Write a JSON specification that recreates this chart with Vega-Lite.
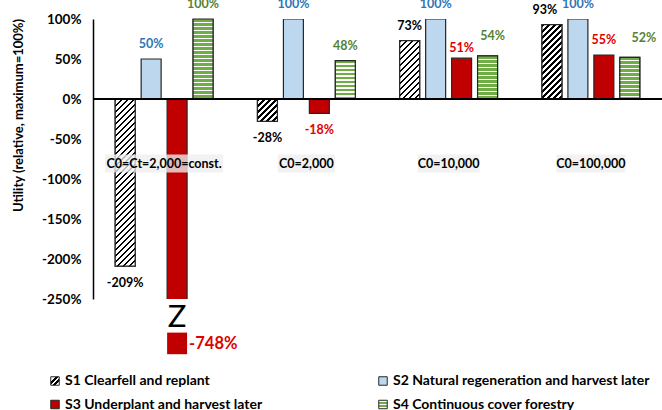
{
  "$schema": "https://vega.github.io/schema/vega-lite/v6.json",
  "width": 569,
  "height": 280,
  "autosize": {"type": "none"},
  "padding": {"left": 93, "top": 19, "right": 0, "bottom": 111},
  "background": "white",
  "config": {
    "font": "Lato",
    "view": {"stroke": null},
    "locale": {"number": {"decimal": ".", "thousands": ",", "grouping": [3], "currency": ["$", ""], "minus": "-"}},
    "legend": {
      "orient": "none", "legendX": -45, "legendY": 355, "columns": 2, "columnPadding": 113, "rowPadding": 9.5,
      "symbolType": "square", "symbolSize": 72, "symbolStrokeWidth": 1,
      "labelFont": "Lato", "labelFontSize": 14, "labelFontWeight": "bold", "labelColor": "#000000",
      "labelOffset": 3, "labelLimit": 400, "padding": 0
    }
  },
  "params": [
    {"name": "hatch", "value": [
      {"offset": 0, "color": "#000"}, {"offset": 0.0140625, "color": "#000"}, {"offset": 0.0140625, "color": "#fff"}, {"offset": 0.03125, "color": "#fff"},
      {"offset": 0.03125, "color": "#000"}, {"offset": 0.0453125, "color": "#000"}, {"offset": 0.0453125, "color": "#fff"}, {"offset": 0.0625, "color": "#fff"},
      {"offset": 0.0625, "color": "#000"}, {"offset": 0.0765625, "color": "#000"}, {"offset": 0.0765625, "color": "#fff"}, {"offset": 0.09375, "color": "#fff"},
      {"offset": 0.09375, "color": "#000"}, {"offset": 0.1078125, "color": "#000"}, {"offset": 0.1078125, "color": "#fff"}, {"offset": 0.125, "color": "#fff"},
      {"offset": 0.125, "color": "#000"}, {"offset": 0.1390625, "color": "#000"}, {"offset": 0.1390625, "color": "#fff"}, {"offset": 0.15625, "color": "#fff"},
      {"offset": 0.15625, "color": "#000"}, {"offset": 0.1703125, "color": "#000"}, {"offset": 0.1703125, "color": "#fff"}, {"offset": 0.1875, "color": "#fff"},
      {"offset": 0.1875, "color": "#000"}, {"offset": 0.2015625, "color": "#000"}, {"offset": 0.2015625, "color": "#fff"}, {"offset": 0.21875, "color": "#fff"},
      {"offset": 0.21875, "color": "#000"}, {"offset": 0.2328125, "color": "#000"}, {"offset": 0.2328125, "color": "#fff"}, {"offset": 0.25, "color": "#fff"},
      {"offset": 0.25, "color": "#000"}, {"offset": 0.2640625, "color": "#000"}, {"offset": 0.2640625, "color": "#fff"}, {"offset": 0.28125, "color": "#fff"},
      {"offset": 0.28125, "color": "#000"}, {"offset": 0.2953125, "color": "#000"}, {"offset": 0.2953125, "color": "#fff"}, {"offset": 0.3125, "color": "#fff"},
      {"offset": 0.3125, "color": "#000"}, {"offset": 0.3265625, "color": "#000"}, {"offset": 0.3265625, "color": "#fff"}, {"offset": 0.34375, "color": "#fff"},
      {"offset": 0.34375, "color": "#000"}, {"offset": 0.3578125, "color": "#000"}, {"offset": 0.3578125, "color": "#fff"}, {"offset": 0.375, "color": "#fff"},
      {"offset": 0.375, "color": "#000"}, {"offset": 0.3890625, "color": "#000"}, {"offset": 0.3890625, "color": "#fff"}, {"offset": 0.40625, "color": "#fff"},
      {"offset": 0.40625, "color": "#000"}, {"offset": 0.4203125, "color": "#000"}, {"offset": 0.4203125, "color": "#fff"}, {"offset": 0.4375, "color": "#fff"},
      {"offset": 0.4375, "color": "#000"}, {"offset": 0.4515625, "color": "#000"}, {"offset": 0.4515625, "color": "#fff"}, {"offset": 0.46875, "color": "#fff"},
      {"offset": 0.46875, "color": "#000"}, {"offset": 0.4828125, "color": "#000"}, {"offset": 0.4828125, "color": "#fff"}, {"offset": 0.5, "color": "#fff"},
      {"offset": 0.5, "color": "#000"}, {"offset": 0.5140625, "color": "#000"}, {"offset": 0.5140625, "color": "#fff"}, {"offset": 0.53125, "color": "#fff"},
      {"offset": 0.53125, "color": "#000"}, {"offset": 0.5453125, "color": "#000"}, {"offset": 0.5453125, "color": "#fff"}, {"offset": 0.5625, "color": "#fff"},
      {"offset": 0.5625, "color": "#000"}, {"offset": 0.5765625, "color": "#000"}, {"offset": 0.5765625, "color": "#fff"}, {"offset": 0.59375, "color": "#fff"},
      {"offset": 0.59375, "color": "#000"}, {"offset": 0.6078125, "color": "#000"}, {"offset": 0.6078125, "color": "#fff"}, {"offset": 0.625, "color": "#fff"},
      {"offset": 0.625, "color": "#000"}, {"offset": 0.6390625, "color": "#000"}, {"offset": 0.6390625, "color": "#fff"}, {"offset": 0.65625, "color": "#fff"},
      {"offset": 0.65625, "color": "#000"}, {"offset": 0.6703125, "color": "#000"}, {"offset": 0.6703125, "color": "#fff"}, {"offset": 0.6875, "color": "#fff"},
      {"offset": 0.6875, "color": "#000"}, {"offset": 0.7015625, "color": "#000"}, {"offset": 0.7015625, "color": "#fff"}, {"offset": 0.71875, "color": "#fff"},
      {"offset": 0.71875, "color": "#000"}, {"offset": 0.7328125, "color": "#000"}, {"offset": 0.7328125, "color": "#fff"}, {"offset": 0.75, "color": "#fff"},
      {"offset": 0.75, "color": "#000"}, {"offset": 0.7640625, "color": "#000"}, {"offset": 0.7640625, "color": "#fff"}, {"offset": 0.78125, "color": "#fff"},
      {"offset": 0.78125, "color": "#000"}, {"offset": 0.7953125, "color": "#000"}, {"offset": 0.7953125, "color": "#fff"}, {"offset": 0.8125, "color": "#fff"},
      {"offset": 0.8125, "color": "#000"}, {"offset": 0.8265625, "color": "#000"}, {"offset": 0.8265625, "color": "#fff"}, {"offset": 0.84375, "color": "#fff"},
      {"offset": 0.84375, "color": "#000"}, {"offset": 0.8578125, "color": "#000"}, {"offset": 0.8578125, "color": "#fff"}, {"offset": 0.875, "color": "#fff"},
      {"offset": 0.875, "color": "#000"}, {"offset": 0.8890625, "color": "#000"}, {"offset": 0.8890625, "color": "#fff"}, {"offset": 0.90625, "color": "#fff"},
      {"offset": 0.90625, "color": "#000"}, {"offset": 0.9203125, "color": "#000"}, {"offset": 0.9203125, "color": "#fff"}, {"offset": 0.9375, "color": "#fff"},
      {"offset": 0.9375, "color": "#000"}, {"offset": 0.9515625, "color": "#000"}, {"offset": 0.9515625, "color": "#fff"}, {"offset": 0.96875, "color": "#fff"},
      {"offset": 0.96875, "color": "#000"}, {"offset": 0.9828125, "color": "#000"}, {"offset": 0.9828125, "color": "#fff"}, {"offset": 1, "color": "#fff"}
    ]},
    {"name": "stripes", "value": [
      {"offset": 0, "color": "#70AD47"}, {"offset": 0.035, "color": "#70AD47"}, {"offset": 0.035, "color": "#fff"}, {"offset": 0.05, "color": "#fff"},
      {"offset": 0.05, "color": "#70AD47"}, {"offset": 0.085, "color": "#70AD47"}, {"offset": 0.085, "color": "#fff"}, {"offset": 0.1, "color": "#fff"},
      {"offset": 0.1, "color": "#70AD47"}, {"offset": 0.135, "color": "#70AD47"}, {"offset": 0.135, "color": "#fff"}, {"offset": 0.15, "color": "#fff"},
      {"offset": 0.15, "color": "#70AD47"}, {"offset": 0.185, "color": "#70AD47"}, {"offset": 0.185, "color": "#fff"}, {"offset": 0.2, "color": "#fff"},
      {"offset": 0.2, "color": "#70AD47"}, {"offset": 0.235, "color": "#70AD47"}, {"offset": 0.235, "color": "#fff"}, {"offset": 0.25, "color": "#fff"},
      {"offset": 0.25, "color": "#70AD47"}, {"offset": 0.285, "color": "#70AD47"}, {"offset": 0.285, "color": "#fff"}, {"offset": 0.3, "color": "#fff"},
      {"offset": 0.3, "color": "#70AD47"}, {"offset": 0.335, "color": "#70AD47"}, {"offset": 0.335, "color": "#fff"}, {"offset": 0.35, "color": "#fff"},
      {"offset": 0.35, "color": "#70AD47"}, {"offset": 0.385, "color": "#70AD47"}, {"offset": 0.385, "color": "#fff"}, {"offset": 0.4, "color": "#fff"},
      {"offset": 0.4, "color": "#70AD47"}, {"offset": 0.435, "color": "#70AD47"}, {"offset": 0.435, "color": "#fff"}, {"offset": 0.45, "color": "#fff"},
      {"offset": 0.45, "color": "#70AD47"}, {"offset": 0.485, "color": "#70AD47"}, {"offset": 0.485, "color": "#fff"}, {"offset": 0.5, "color": "#fff"},
      {"offset": 0.5, "color": "#70AD47"}, {"offset": 0.535, "color": "#70AD47"}, {"offset": 0.535, "color": "#fff"}, {"offset": 0.55, "color": "#fff"},
      {"offset": 0.55, "color": "#70AD47"}, {"offset": 0.585, "color": "#70AD47"}, {"offset": 0.585, "color": "#fff"}, {"offset": 0.6, "color": "#fff"},
      {"offset": 0.6, "color": "#70AD47"}, {"offset": 0.635, "color": "#70AD47"}, {"offset": 0.635, "color": "#fff"}, {"offset": 0.65, "color": "#fff"},
      {"offset": 0.65, "color": "#70AD47"}, {"offset": 0.685, "color": "#70AD47"}, {"offset": 0.685, "color": "#fff"}, {"offset": 0.7, "color": "#fff"},
      {"offset": 0.7, "color": "#70AD47"}, {"offset": 0.735, "color": "#70AD47"}, {"offset": 0.735, "color": "#fff"}, {"offset": 0.75, "color": "#fff"},
      {"offset": 0.75, "color": "#70AD47"}, {"offset": 0.785, "color": "#70AD47"}, {"offset": 0.785, "color": "#fff"}, {"offset": 0.8, "color": "#fff"},
      {"offset": 0.8, "color": "#70AD47"}, {"offset": 0.835, "color": "#70AD47"}, {"offset": 0.835, "color": "#fff"}, {"offset": 0.85, "color": "#fff"},
      {"offset": 0.85, "color": "#70AD47"}, {"offset": 0.885, "color": "#70AD47"}, {"offset": 0.885, "color": "#fff"}, {"offset": 0.9, "color": "#fff"},
      {"offset": 0.9, "color": "#70AD47"}, {"offset": 0.935, "color": "#70AD47"}, {"offset": 0.935, "color": "#fff"}, {"offset": 0.95, "color": "#fff"},
      {"offset": 0.95, "color": "#70AD47"}, {"offset": 0.985, "color": "#70AD47"}, {"offset": 0.985, "color": "#fff"}, {"offset": 1, "color": "#fff"}
    ]}
  ],
  "data": {"values": [
    {"group": "C0=Ct=2,000=const.", "strategy": "S1 Clearfell and replant", "value": -2.09},
    {"group": "C0=Ct=2,000=const.", "strategy": "S2 Natural regeneration and harvest later", "value": 0.5},
    {"group": "C0=Ct=2,000=const.", "strategy": "S3 Underplant and harvest later", "value": -7.48},
    {"group": "C0=Ct=2,000=const.", "strategy": "S4 Continuous cover forestry", "value": 1.0},
    {"group": "C0=2,000", "strategy": "S1 Clearfell and replant", "value": -0.28},
    {"group": "C0=2,000", "strategy": "S2 Natural regeneration and harvest later", "value": 1.0},
    {"group": "C0=2,000", "strategy": "S3 Underplant and harvest later", "value": -0.18},
    {"group": "C0=2,000", "strategy": "S4 Continuous cover forestry", "value": 0.48},
    {"group": "C0=10,000", "strategy": "S1 Clearfell and replant", "value": 0.73},
    {"group": "C0=10,000", "strategy": "S2 Natural regeneration and harvest later", "value": 1.0},
    {"group": "C0=10,000", "strategy": "S3 Underplant and harvest later", "value": 0.51},
    {"group": "C0=10,000", "strategy": "S4 Continuous cover forestry", "value": 0.54},
    {"group": "C0=100,000", "strategy": "S1 Clearfell and replant", "value": 0.93},
    {"group": "C0=100,000", "strategy": "S2 Natural regeneration and harvest later", "value": 1.0},
    {"group": "C0=100,000", "strategy": "S3 Underplant and harvest later", "value": 0.55},
    {"group": "C0=100,000", "strategy": "S4 Continuous cover forestry", "value": 0.52}
  ]},
  "encoding": {
    "x": {"field": "group", "type": "nominal", "axis": null,
      "scale": {"domain": ["C0=Ct=2,000=const.", "C0=2,000", "C0=10,000", "C0=100,000"], "paddingInner": 0.27, "paddingOuter": 0.135}},
    "y": {"field": "value", "type": "quantitative",
      "scale": {"domain": [-2.5, 1], "nice": false, "zero": false},
      "axis": {
        "values": [-2.5, -2, -1.5, -1, -0.5, 0, 0.5, 1], "format": ".0%", "grid": false, "ticks": false,
        "domain": true, "domainColor": "#000000", "domainWidth": 1.5,
        "labelFont": "Lato", "labelFontSize": 13.5, "labelFontWeight": "bold", "labelColor": "#000000", "labelPadding": 12,
        "title": "Utility (relative, maximum=100%)", "titleFont": "Lato", "titleFontSize": 13, "titleFontWeight": "bold",
        "titleColor": "#000000", "titleX": -75, "titleY": 96, "titleBaseline": "middle", "titleAngle": -90, "titleAlign": "center"
      }
    }
  },
  "layer": [
    {
      "mark": {"type": "bar", "clip": true, "strokeWidth": 1.2},
      "encoding": {
        "xOffset": {"field": "strategy", "type": "nominal",
          "scale": {"domain": ["S1 Clearfell and replant", "S2 Natural regeneration and harvest later", "S3 Underplant and harvest later", "S4 Continuous cover forestry"], "paddingInner": 0.2308, "paddingOuter": 0.1154}},
        "fill": {"field": "strategy", "type": "nominal",
          "scale": {"domain": ["S1 Clearfell and replant", "S3 Underplant and harvest later", "S2 Natural regeneration and harvest later", "S4 Continuous cover forestry"],
                    "range": [
                      {"expr": "{gradient:'linear',x1:0,y1:0,x2:1,y2:1,stops:[{offset:0,color:'#fff'},{offset:0.28,color:'#fff'},{offset:0.28,color:'#000'},{offset:0.45,color:'#000'},{offset:0.45,color:'#fff'},{offset:0.6,color:'#fff'},{offset:0.6,color:'#000'},{offset:0.77,color:'#000'},{offset:0.77,color:'#fff'},{offset:1,color:'#fff'}]}"},
                      "#C00000",
                      "#BDD7EE",
                      {"expr": "{gradient:'linear',x1:0,y1:0,x2:0,y2:1,stops:[{offset:0,color:'#fff'},{offset:0.2,color:'#fff'},{offset:0.2,color:'#70AD47'},{offset:0.4,color:'#70AD47'},{offset:0.4,color:'#fff'},{offset:0.6,color:'#fff'},{offset:0.6,color:'#70AD47'},{offset:0.8,color:'#70AD47'},{offset:0.8,color:'#fff'},{offset:1,color:'#fff'}]}"}
                    ]},
          "legend": {"title": null}
        },
        "stroke": {"field": "strategy", "type": "nominal",
          "scale": {"domain": ["S1 Clearfell and replant", "S3 Underplant and harvest later", "S2 Natural regeneration and harvest later", "S4 Continuous cover forestry"],
                    "range": ["#262626", "#262626", "#262626", "#262626"]},
          "legend": {"title": null}
        }
      }
    },
    {
      "transform": [{"filter": "substring(datum.strategy,0,2)=='S1' || substring(datum.strategy,0,2)=='S4'"}],
      "mark": {"type": "bar", "stroke": "#262626", "strokeWidth": 1.2,
        "fill": {"expr": "substring(datum.strategy,0,2)=='S1' ? {gradient:'linear', x1:0, y1:0, x2: 3840/(400+pow(scale('y',datum.value)-scale('y',0),2)), y2: 192*abs(scale('y',datum.value)-scale('y',0))/(400+pow(scale('y',datum.value)-scale('y',0),2)), stops: hatch} : {gradient:'linear', x1:0, y1:0, x2:0, y2: 80/abs(scale('y',datum.value)-scale('y',0)), stops: stripes}"}},
      "encoding": {
        "xOffset": {"field": "strategy", "type": "nominal"}
      }
    },
    {
      "transform": [{"filter": "substring(datum.strategy,0,2)=='S1'"}],
      "mark": {"type": "bar", "fill": "#EEEEEE", "opacity": 0.78},
      "encoding": {
        "y": {"datum": -0.695},
        "y2": {"datum": -0.92},
        "size": {"condition": [
          {"test": "datum.group == 'C0=Ct=2,000=const.'", "value": 118},
          {"test": "datum.group == 'C0=2,000'", "value": 57},
          {"test": "datum.group == 'C0=10,000'", "value": 62}
        ], "value": 69}
      }
    },
    {
      "transform": [{"filter": "substring(datum.strategy,0,2)=='S1'"}],
      "mark": {"type": "text", "font": "Lato", "fontSize": 12.5, "fontWeight": "bold", "color": "#000000", "baseline": "middle"},
      "encoding": {
        "y": {"datum": -0.812},
        "text": {"field": "group"}
      }
    },
    {
      "mark": {"type": "rule", "color": "#000000", "strokeWidth": 2},
      "encoding": {"x": null, "y": {"datum": 0}}
    },
    {
      "transform": [{"filter": "datum.value > 0"}],
      "mark": {"type": "text", "font": "Lato", "fontSize": 12.5, "fontWeight": "bold", "baseline": "alphabetic",
        "dx": {"expr": "datum.group=='C0=100,000' && substring(datum.strategy,0,2)=='S4' ? 14 : datum.group=='C0=100,000' && substring(datum.strategy,0,2)=='S1' ? -7 : datum.group=='C0=10,000' && substring(datum.strategy,0,2)=='S4' ? 5 : 0"},
        "dy": {"expr": "datum.group=='C0=100,000' && substring(datum.strategy,0,2)=='S4' ? -15 : datum.group=='C0=10,000' && substring(datum.strategy,0,2)=='S4' ? -16 : datum.group=='C0=10,000' && substring(datum.strategy,0,2)=='S3' ? -6 : -11"}},
      "encoding": {
        "xOffset": {"field": "strategy", "type": "nominal"},
        "text": {"field": "value", "format": ".0%"},
        "color": {"field": "strategy", "type": "nominal", "legend": null,
          "scale": {"domain": ["S1 Clearfell and replant", "S2 Natural regeneration and harvest later", "S3 Underplant and harvest later", "S4 Continuous cover forestry"],
                    "range": ["#000000", "#2E75B6", "#E00000", "#548235"]}}
      }
    },
    {
      "transform": [{"filter": "datum.value < 0 && datum.value > -2.5"}],
      "mark": {"type": "text", "font": "Lato", "fontSize": 12.5, "fontWeight": "bold", "baseline": "alphabetic", "dy": 21},
      "encoding": {
        "xOffset": {"field": "strategy", "type": "nominal"},
        "text": {"field": "value", "format": ".0%"},
        "color": {"field": "strategy", "type": "nominal", "legend": null}
      }
    },
    {
      "transform": [{"filter": "datum.value < -2.5"}],
      "mark": {"type": "text", "font": "Lato", "fontSize": 31, "fontWeight": "normal", "baseline": "middle", "color": "#000000"},
      "encoding": {
        "xOffset": {"field": "strategy", "type": "nominal"},
        "y": {"datum": -2.74},
        "text": {"value": "Z"}
      }
    },
    {
      "transform": [{"filter": "datum.value < -2.5"}],
      "mark": {"type": "bar", "fill": "#C00000"},
      "encoding": {
        "xOffset": {"field": "strategy", "type": "nominal"},
        "y": {"datum": -2.92},
        "y2": {"datum": -3.19}
      }
    },
    {
      "transform": [{"filter": "datum.value < -2.5"}],
      "mark": {"type": "text", "font": "Lato", "fontSize": 16.5, "fontWeight": "bold", "baseline": "middle", "align": "left", "dx": 12, "color": "#E00000"},
      "encoding": {
        "xOffset": {"field": "strategy", "type": "nominal"},
        "y": {"datum": -3.06},
        "text": {"field": "value", "format": ".0%"}
      }
    }
  ]
}
